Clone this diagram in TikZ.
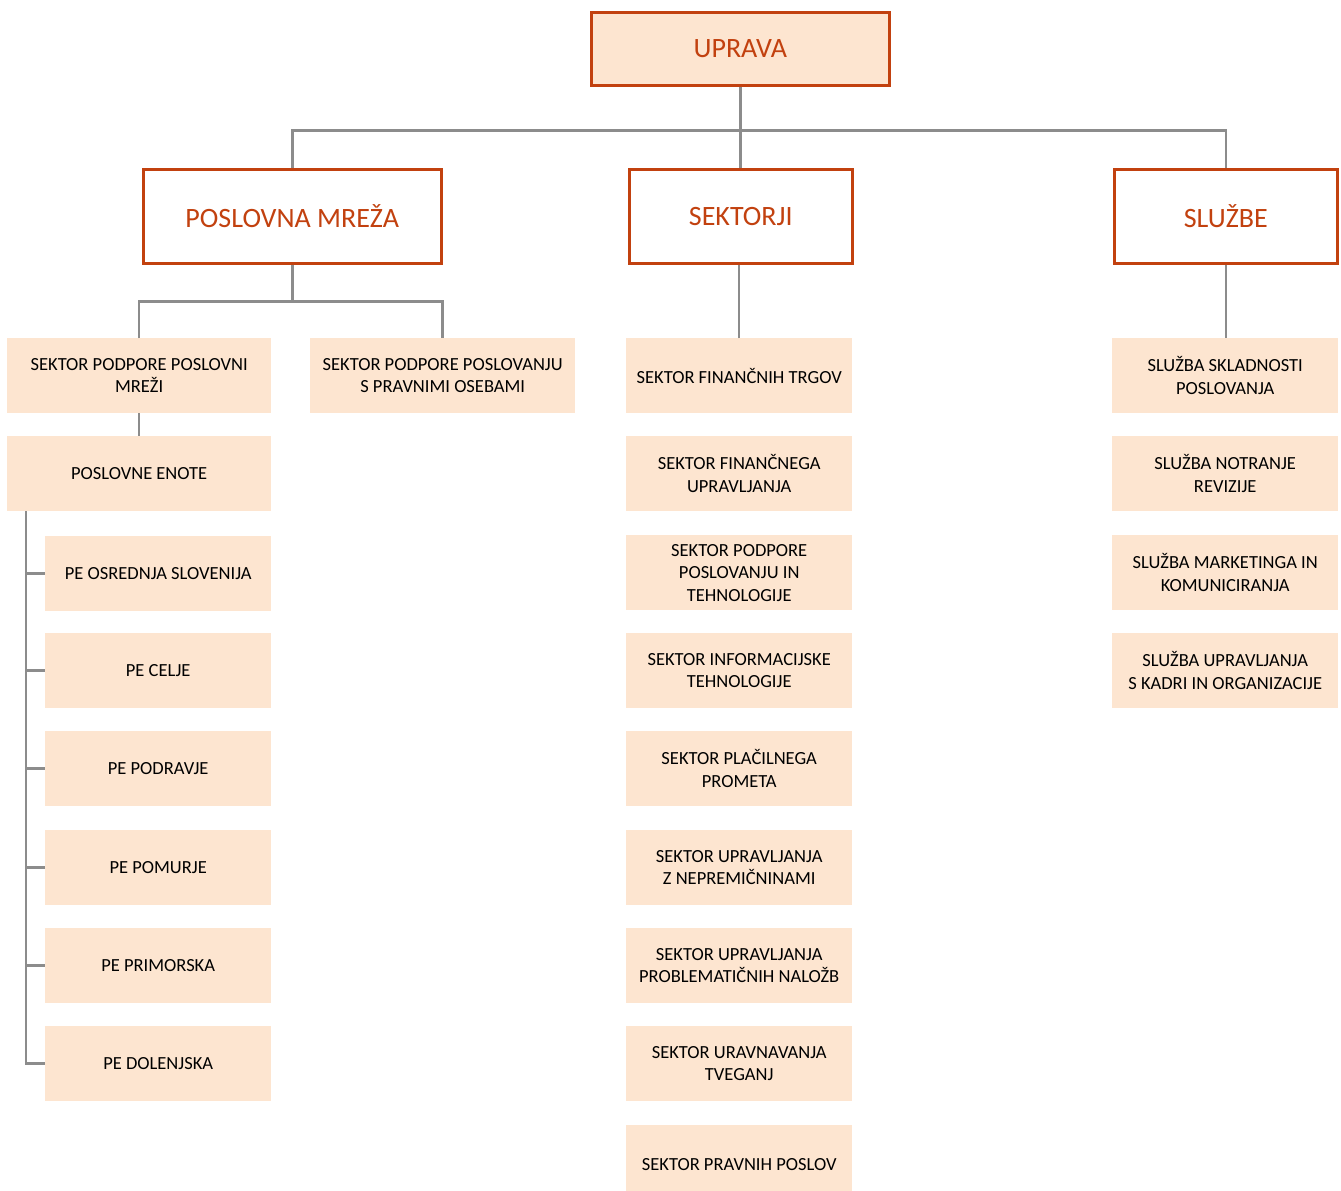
\documentclass[tikz,border=0pt]{standalone}
\usepackage{fontspec}
\setmainfont{Carlito}
\definecolor{peach}{HTML}{FDE5D0}
\definecolor{rust}{HTML}{C2410F}
\definecolor{conn}{HTML}{8C8C8C}
\begin{document}
\begin{tikzpicture}[x=1pt,y=-1pt,
  headbox/.style={draw=rust,line width=2.5pt,text=rust,font=\fontsize{28}{32}\selectfont,inner sep=0pt,anchor=north west},
  subbox/.style={fill=peach,draw=none,text=black,font=\fontsize{18.5}{22.5}\selectfont,align=center,inner sep=0pt,anchor=north west},
  link/.style={draw=conn,line width=2.5pt}]
\useasboundingbox (0,0) rectangle (1341,1191);
\begin{scope}
\clip (0,0) rectangle (1341,1191);
% level 1
\node[headbox,fill=peach,minimum width=298pt,minimum height=73pt] (upr) at (590,11) {UPRAVA};
% level 2
\node[headbox,fill=white,minimum width=298pt,minimum height=94pt] (pm) at (142,168) {POSLOVNA MREŽA};
\node[headbox,fill=white,minimum width=223pt,minimum height=94pt] (sek) at (628,168) {SEKTORJI};
\node[headbox,fill=white,minimum width=223pt,minimum height=94pt] (slu) at (1113,168) {SLUŽBE};
% left
\node[subbox,minimum width=264pt,minimum height=75pt] (spm) at (7,338) {SEKTOR PODPORE POSLOVNI\\MREŽI};
\node[subbox,minimum width=265pt,minimum height=75pt] (spp) at (310,338) {SEKTOR PODPORE POSLOVANJU\\S PRAVNIMI OSEBAMI};
\node[subbox,minimum width=264pt,minimum height=75pt] (pe) at (7,436) {POSLOVNE ENOTE};
\node[subbox,minimum width=226pt,minimum height=75pt] (pe1) at (45,536) {PE OSREDNJA SLOVENIJA};
\node[subbox,minimum width=226pt,minimum height=75pt] (pe2) at (45,633) {PE CELJE};
\node[subbox,minimum width=226pt,minimum height=75pt] (pe3) at (45,731) {PE PODRAVJE};
\node[subbox,minimum width=226pt,minimum height=75pt] (pe4) at (45,830) {PE POMURJE};
\node[subbox,minimum width=226pt,minimum height=75pt] (pe5) at (45,928) {PE PRIMORSKA};
\node[subbox,minimum width=226pt,minimum height=75pt] (pe6) at (45,1026) {PE DOLENJSKA};
% middle
\node[subbox,minimum width=226pt,minimum height=75pt] (m1) at (626,338) {SEKTOR FINANČNIH TRGOV};
\node[subbox,minimum width=226pt,minimum height=75pt] (m2) at (626,436) {SEKTOR FINANČNEGA\\UPRAVLJANJA};
\node[subbox,minimum width=226pt,minimum height=75pt] (m3) at (626,535) {SEKTOR PODPORE\\POSLOVANJU IN\\TEHNOLOGIJE};
\node[subbox,minimum width=226pt,minimum height=75pt] (m4) at (626,633) {SEKTOR INFORMACIJSKE\\TEHNOLOGIJE};
\node[subbox,minimum width=226pt,minimum height=75pt] (m5) at (626,731) {SEKTOR PLAČILNEGA\\PROMETA};
\node[subbox,minimum width=226pt,minimum height=75pt] (m6) at (626,830) {SEKTOR UPRAVLJANJA\\Z NEPREMIČNINAMI};
\node[subbox,minimum width=226pt,minimum height=75pt] (m7) at (626,928) {SEKTOR UPRAVLJANJA\\PROBLEMATIČNIH NALOŽB};
\node[subbox,minimum width=226pt,minimum height=75pt] (m8) at (626,1026) {SEKTOR URAVNAVANJA\\TVEGANJ};
\node[subbox,minimum width=226pt,minimum height=78pt] (m9) at (626,1125) {SEKTOR PRAVNIH POSLOV};
% right
\node[subbox,minimum width=226pt,minimum height=75pt] (r1) at (1112,338) {SLUŽBA SKLADNOSTI\\POSLOVANJA};
\node[subbox,minimum width=226pt,minimum height=75pt] (r2) at (1112,436) {SLUŽBA NOTRANJE\\REVIZIJE};
\node[subbox,minimum width=226pt,minimum height=75pt] (r3) at (1112,535) {SLUŽBA MARKETINGA IN\\KOMUNICIRANJA};
\node[subbox,minimum width=226pt,minimum height=75pt] (r4) at (1112,633) {SLUŽBA UPRAVLJANJA\\S KADRI IN ORGANIZACIJE};
% connectors
\draw[link] (upr.south) -- ++(0,44) coordinate (hub);
\draw[link] (pm.north) |- (hub) -| (slu.north);
\draw[link] (hub) -- (hub |- sek.north);
\draw[link] (pm.south) -- ++(0,37) coordinate (pmhub);
\draw[link] (spm.north) |- (pmhub) -| (spp.north);
\draw[link] (spm.south) -- (pe.north);
\draw[link] (m1.north) -- (m1.north |- sek.south);
\draw[link] (slu.south) -- (slu.south |- r1.north);
\coordinate (trunk) at (26,511);
\draw[link] (trunk) |- (pe6.west);
\foreach \n in {pe1,pe2,pe3,pe4,pe5}{\draw[link] (trunk |- \n.west) -- (\n.west);}
\end{scope}
\end{tikzpicture}
\end{document}
